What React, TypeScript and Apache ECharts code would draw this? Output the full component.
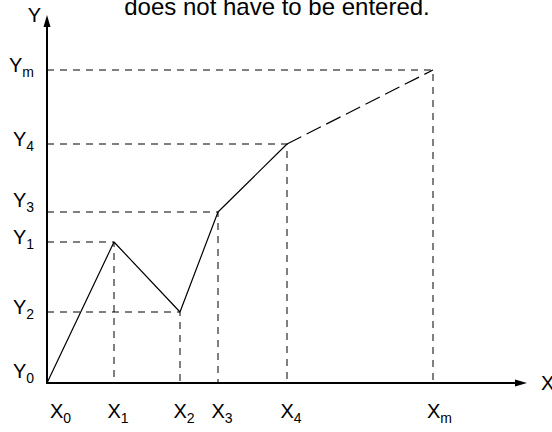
import React, { useEffect, useRef } from "react";
import * as echarts from "echarts";

// Point coordinates (arbitrary units measured from the origin)
const xValues = [0, 67, 133, 171, 240, 386];
const yValues = [0, 141, 71, 171, 239, 313];
const subscripts = ["0", "1", "2", "3", "4", "m"];
const titleText = "does not have to be entered.";

const FONT = "'Liberation Sans', Arial, Helvetica, sans-serif";

export default function App() {
  const ref = useRef<HTMLDivElement>(null);

  useEffect(() => {
    if (!ref.current) return;
    const chart = echarts.init(ref.current, undefined, { renderer: "svg" });

    const pts = xValues.map((x, i) => [x, yValues[i]]);
    const last = pts.length - 1;

    const guideSeries = pts.slice(1).map((p, i) => ({
      type: "line" as const,
      name: "guide" + (i + 1),
      data: [[0, p[1]], [p[0], p[1]], [p[0], 0]],
      symbol: "none",
      silent: true,
      z: 1,
      lineStyle: { color: "#000", width: 1, type: [7, 6] as any },
    }));

    const subIndex = (v: number, arr: number[]) => arr.indexOf(v);

    const rich = {
      m: { fontSize: 20, fontFamily: FONT, color: "#000", lineHeight: 20, verticalAlign: "top" },
      s: { fontSize: 14, fontFamily: FONT, color: "#000", lineHeight: 14, padding: [10, 0, 0, 0], verticalAlign: "top" },
      p0: { width: 27, height: 20, lineHeight: 20, verticalAlign: "top" },
      p: { width: 8, height: 20, lineHeight: 20, verticalAlign: "top" },
      pw: { width: 13, height: 20, lineHeight: 20, verticalAlign: "top" },
      h: { width: 0, height: 30, lineHeight: 30, verticalAlign: "top" },
      hh: { width: 0, height: 44, lineHeight: 44, verticalAlign: "top" },
    };

    chart.setOption({
      animation: false,
      backgroundColor: "#fff",
      title: {
        text: titleText,
        left: 272,
        textAlign: "center",
        top: -11,
        textStyle: { fontSize: 24, fontWeight: "normal", color: "#000", fontFamily: FONT },
      },
      grid: { left: 47, right: 31, top: 21, bottom: 49, containLabel: false, outerBoundsMode: "none" },
      xAxis: {
        type: "value",
        min: 0,
        max: 474,
        name: "X",
        nameLocation: "end",
        nameGap: 20,
        nameTextStyle: { fontSize: 20, color: "#000", fontFamily: FONT },
        axisLine: {
          show: true,
          symbol: ["none", "triangle"],
          symbolSize: [7, 12],
          lineStyle: { color: "#000", width: 2 },
        },
        axisTick: { show: false },
        splitLine: { show: false },
        axisLabel: {
          customValues: xValues,
          margin: 18,
          formatter: (v: number) => {
            const i = subIndex(v, xValues);
            const s = subscripts[i];
            const pad = i === 0 ? "p0" : s === "m" ? "pw" : "p";
            return `{${pad}|}{m|X}{s|${s}}`;
          },
          rich,
        },
      },
      yAxis: {
        type: "value",
        min: 0,
        max: 362,
        name: "Y",
        nameLocation: "end",
        nameGap: 0,
        nameTextStyle: {
          fontSize: 20,
          color: "#000",
          fontFamily: FONT,
          align: "right",
          verticalAlign: "bottom",
          padding: [0, 6, -4, 0],
        },
        axisLine: {
          show: true,
          symbol: ["none", "triangle"],
          symbolSize: [7, 12],
          lineStyle: { color: "#000", width: 2 },
        },
        axisTick: { show: false },
        splitLine: { show: false },
        axisLabel: {
          customValues: yValues,
          margin: 13,
          formatter: (v: number) => {
            const i = subIndex(v, yValues);
            const lift = i === 0 || i === 3 ? "hh" : "h";
            return `{${lift}|}{m|Y}{s|${subscripts[i]}}`;
          },
          rich,
        },
      },
      series: [
        ...guideSeries,
        {
          type: "line",
          name: "solid",
          data: pts.slice(0, last),
          symbol: "none",
          z: 3,
          lineStyle: { color: "#000", width: 1.2 },
        },
        {
          type: "line",
          name: "extrapolated",
          data: pts.slice(last - 1),
          symbol: "none",
          z: 3,
          lineStyle: { color: "#000", width: 1.2, type: [16, 6] as any },
        },
      ],
    });

    return () => chart.dispose();
  }, []);

  return (
    <div
      ref={ref}
      style={{ position: "fixed", left: 0, top: 0, width: 552, height: 432, background: "#fff" }}
    />
  );
}
